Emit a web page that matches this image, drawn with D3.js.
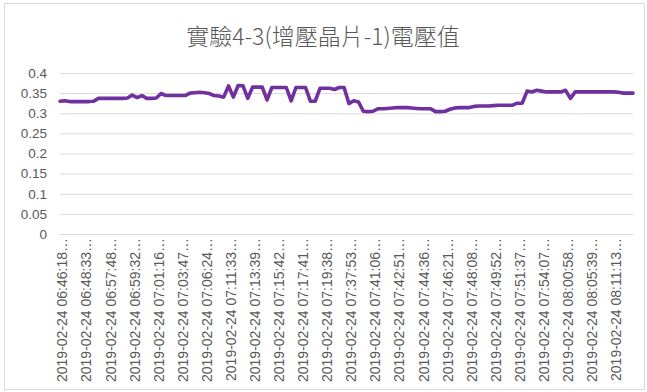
<!DOCTYPE html>
<html>
<head>
<meta charset="utf-8">
<script src="https://cdn.jsdelivr.net/npm/d3@7"></script>
<style>
  body { margin: 0; background: #fff; }
  svg { display: block; }
</style>
</head>
<body>
<script>
var title = '實驗4-3(增壓晶片-1)電壓值';

// one label every 5 categories (the rest are hidden, as in the original)
var tickLabels = [
    '2019-02-24 06:46:18', '2019-02-24 06:48:33', '2019-02-24 06:57:48', '2019-02-24 06:59:32',
    '2019-02-24 07:01:16', '2019-02-24 07:03:47', '2019-02-24 07:06:24', '2019-02-24 07:11:33',
    '2019-02-24 07:13:39', '2019-02-24 07:15:42', '2019-02-24 07:17:41', '2019-02-24 07:19:38',
    '2019-02-24 07:37:53', '2019-02-24 07:41:06', '2019-02-24 07:42:51', '2019-02-24 07:44:36',
    '2019-02-24 07:46:21', '2019-02-24 07:48:08', '2019-02-24 07:49:52', '2019-02-24 07:51:37',
    '2019-02-24 07:54:07', '2019-02-24 08:00:58', '2019-02-24 08:05:39', '2019-02-24 08:11:13'
];
var labelStep = 5;

var voltage = [
    0.330, 0.331, 0.329, 0.329, 0.329, 0.329, 0.329, 0.330, 0.337, 0.337,
    0.337, 0.337, 0.337, 0.337, 0.338, 0.345, 0.339, 0.344, 0.337, 0.337,
    0.338, 0.349, 0.344, 0.344, 0.344, 0.344, 0.344, 0.350, 0.351, 0.352,
    0.351, 0.349, 0.344, 0.343, 0.340, 0.368, 0.340, 0.369, 0.368, 0.337,
    0.365, 0.365, 0.365, 0.333, 0.364, 0.364, 0.364, 0.364, 0.331, 0.364,
    0.364, 0.364, 0.330, 0.330, 0.362, 0.362, 0.362, 0.359, 0.364, 0.364,
    0.324, 0.331, 0.328, 0.305, 0.304, 0.305, 0.311, 0.311, 0.312, 0.313,
    0.314, 0.314, 0.314, 0.313, 0.312, 0.311, 0.311, 0.311, 0.304, 0.304,
    0.305, 0.310, 0.313, 0.314, 0.314, 0.314, 0.317, 0.318, 0.318, 0.318,
    0.319, 0.320, 0.320, 0.320, 0.320, 0.325, 0.325, 0.355, 0.353, 0.357,
    0.355, 0.353, 0.353, 0.353, 0.353, 0.357, 0.337, 0.353, 0.353, 0.353,
    0.353, 0.353, 0.353, 0.353, 0.353, 0.353, 0.352, 0.350, 0.350, 0.350
];

var yTicks = [0, 0.05, 0.1, 0.15, 0.2, 0.25, 0.3, 0.35, 0.4];

var w = 647,
    h = 392;
var margin = { top: 73, right: 14, bottom: 158, left: 60 };

var svg = d3.select('body').append('svg')
    .attr('width', w)
    .attr('height', h);

svg.append('rect')
    .attr('x', 4.5).attr('y', 3.5)
    .attr('width', w - 7).attr('height', h - 6)
    .attr('fill', '#fff')
    .attr('stroke', '#d9d9d9');

svg.append('text')
    .attr('x', 323)
    .attr('y', 45)
    .attr('text-anchor', 'middle')
    .attr('font-family', "'Noto Sans CJK TC', 'Noto Sans CJK SC', sans-serif")
    .attr('font-weight', 300)
    .attr('font-size', 23)
    .attr('fill', '#595959')
    .text(title);

var x = d3.scaleLinear()
    .domain([0, voltage.length - 1])
    .range([margin.left, w - margin.right]);

var y = d3.scaleLinear()
    .domain([0, 0.4])
    .range([h - margin.bottom, margin.top]);

// gridlines + y labels
var yAxis = d3.axisLeft(y)
    .tickValues(yTicks)
    .tickSize(-(w - margin.left - margin.right))
    .tickPadding(13)
    .tickFormat(function(d) { return String(+d.toFixed(2)); });

var gy = svg.append('g')
    .attr('transform', 'translate(' + margin.left + ',0)')
    .call(yAxis);
gy.select('.domain').remove();
gy.selectAll('line').attr('stroke', '#d9d9d9');
gy.selectAll('text')
    .attr('font-family', "'Liberation Sans', Arial, sans-serif")
    .attr('font-size', 13.5)
    .attr('fill', '#595959');

// x axis labels (rotated)
var labelIdx = tickLabels.map(function(d, i) { return i * labelStep; });
var xAxis = d3.axisBottom(x)
    .tickValues(labelIdx)
    .tickSize(0)
    .tickPadding(4)
    .tickFormat(function(d) { return tickLabels[d / labelStep] + '…'; });

var gx = svg.append('g')
    .attr('transform', 'translate(0,' + y(0) + ')')
    .call(xAxis);
gx.select('.domain').attr('stroke', '#d9d9d9');
gx.selectAll('text')
    .attr('font-family', "'Liberation Sans', Arial, sans-serif")
    .attr('font-size', 14)
    .attr('fill', '#595959')
    .attr('text-anchor', 'end')
    .attr('dy', '0.35em')
    .attr('transform', 'translate(2,4) rotate(-90)')
    .attr('x', 0)
    .attr('y', 0);

var line = d3.line()
    .x(function(d, i) { return x(i); })
    .y(function(d) { return y(d); });

svg.append('path')
    .datum(voltage)
    .attr('d', line)
    .attr('fill', 'none')
    .attr('stroke', '#7030a0')
    .attr('stroke-width', 3.6)
    .attr('stroke-linejoin', 'round')
    .attr('stroke-linecap', 'round');
</script>
</body>
</html>
